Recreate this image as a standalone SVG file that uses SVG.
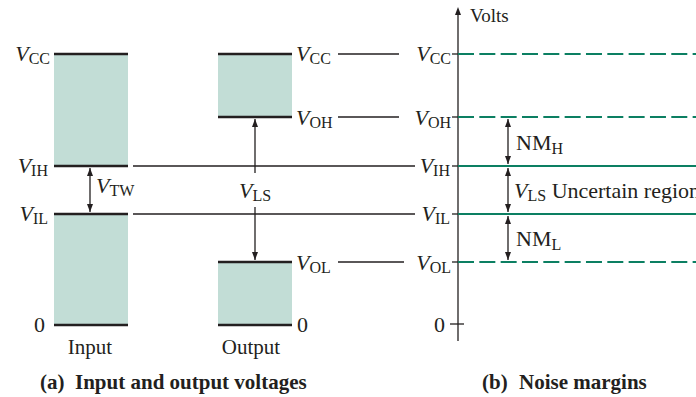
<svg xmlns="http://www.w3.org/2000/svg" width="696" height="397" viewBox="0 0 696 397">
<style>
text{font-family:"Liberation Serif","Times New Roman",serif;font-size:22px;fill:#231f20}
.v{font-style:italic}
.s{font-size:16px;font-style:normal}
.l{font-size:21px}
.b{font-weight:bold;font-size:21px}
.box{fill:#c2ddd6}
.bar{stroke:#231f20;stroke-width:2.6}
.thin{stroke:#231f20;stroke-width:1.3;fill:none}
.gs{stroke:#0c7f62;stroke-width:2.2}
.gd{stroke:#0c7f62;stroke-width:2.2;stroke-dasharray:16 5.33}
.arr{stroke:#231f20;stroke-width:1.3;fill:none;marker-end:url(#ah)}
.arr2{stroke:#231f20;stroke-width:1.3;fill:none;marker-start:url(#ah);marker-end:url(#ah)}
</style>
<defs>
<marker id="ah" markerUnits="userSpaceOnUse" markerWidth="8" markerHeight="6" viewBox="0 0 8 6" refX="8" refY="3" orient="auto-start-reverse">
<path d="M0,0 L8,3 L0,6 z" fill="#231f20"/>
</marker>
</defs>

<g id="input-column">
<rect class="box" x="54" y="54" width="74" height="112"/>
<rect class="box" x="54" y="214" width="74" height="111"/>
<line class="bar" x1="54" y1="54" x2="128" y2="54"/>
<line class="bar" x1="54" y1="166" x2="128" y2="166"/>
<line class="bar" x1="54" y1="214" x2="128" y2="214"/>
<line class="bar" x1="54" y1="325" x2="128" y2="325"/>
<text x="50" y="61" text-anchor="end"><tspan class="v">V</tspan><tspan class="s" dy="3">CC</tspan></text>
<text x="48" y="173" text-anchor="end"><tspan class="v">V</tspan><tspan class="s" dy="3">IH</tspan></text>
<text x="48" y="221" text-anchor="end"><tspan class="v">V</tspan><tspan class="s" dy="3">IL</tspan></text>
<text x="45" y="332" text-anchor="end">0</text>
<text class="l" x="90" y="354" text-anchor="middle">Input</text>
<text x="96" y="193"><tspan class="v">V</tspan><tspan class="s" dy="3">TW</tspan></text>
</g>

<g id="output-column">
<rect class="box" x="218" y="54" width="74" height="63"/>
<rect class="box" x="218" y="262" width="74" height="63"/>
<line class="bar" x1="218" y1="54" x2="292" y2="54"/>
<line class="bar" x1="218" y1="117" x2="292" y2="117"/>
<line class="bar" x1="218" y1="262" x2="292" y2="262"/>
<line class="bar" x1="218" y1="325" x2="292" y2="325"/>
<text x="296" y="61"><tspan class="v">V</tspan><tspan class="s" dy="3">CC</tspan></text>
<text x="296" y="125"><tspan class="v">V</tspan><tspan class="s" dy="3">OH</tspan></text>
<text x="296" y="270"><tspan class="v">V</tspan><tspan class="s" dy="3">OL</tspan></text>
<text x="297" y="332">0</text>
<text class="l" x="251" y="354" text-anchor="middle">Output</text>
<text x="239" y="198"><tspan class="v">V</tspan><tspan class="s" dy="3">LS</tspan></text>
</g>

<g id="noise-margins">
<line class="thin" x1="458" y1="341" x2="458" y2="14"/>
<path d="M458,7 L461,15 L455,15 z" fill="#231f20"/>
<text x="470" y="22" style="font-size:19px">Volts</text>
<line class="gd" x1="458" y1="54" x2="696" y2="54"/>
<line class="gd" x1="458" y1="117" x2="696" y2="117"/>
<line class="gs" x1="458" y1="166" x2="696" y2="166"/>
<line class="gs" x1="458" y1="214" x2="696" y2="214"/>
<line class="gd" x1="458" y1="262" x2="696" y2="262"/>
<line class="thin" x1="452" y1="54" x2="458" y2="54"/>
<line class="thin" x1="452" y1="117" x2="458" y2="117"/>
<line class="thin" x1="452" y1="166" x2="458" y2="166"/>
<line class="thin" x1="452" y1="214" x2="458" y2="214"/>
<line class="thin" x1="452" y1="262" x2="458" y2="262"/>
<line class="thin" x1="450" y1="324" x2="464" y2="324"/>
<text x="451" y="61" text-anchor="end"><tspan class="v">V</tspan><tspan class="s" dy="3">CC</tspan></text>
<text x="451" y="125" text-anchor="end"><tspan class="v">V</tspan><tspan class="s" dy="3">OH</tspan></text>
<text x="450" y="173" text-anchor="end"><tspan class="v">V</tspan><tspan class="s" dy="3">IH</tspan></text>
<text x="450" y="221" text-anchor="end"><tspan class="v">V</tspan><tspan class="s" dy="3">IL</tspan></text>
<text x="451" y="270" text-anchor="end"><tspan class="v">V</tspan><tspan class="s" dy="3">OL</tspan></text>
<text x="445" y="332" text-anchor="end">0</text>
<text x="516" y="150">NM<tspan class="s" dy="4">H</tspan></text>
<text x="514" y="198"><tspan class="v">V</tspan><tspan class="s" dy="3">LS</tspan><tspan dy="-3"> Uncertain region</tspan></text>
<text x="516" y="246">NM<tspan class="s" dy="4">L</tspan></text>
</g>

<g id="connectors">
<line class="thin" x1="338" y1="54" x2="399" y2="54"/>
<line class="thin" x1="338" y1="117" x2="399" y2="117"/>
<line class="thin" x1="338" y1="262" x2="404" y2="262"/>
<line class="thin" x1="133" y1="166" x2="415" y2="166"/>
<line class="thin" x1="133" y1="214" x2="415" y2="214"/>
<line class="arr2" x1="90" y1="168" x2="90" y2="212"/>
<line class="arr" x1="255" y1="173" x2="255" y2="119"/>
<line class="arr" x1="255" y1="207" x2="255" y2="260"/>
<line class="arr2" x1="508" y1="119" x2="508" y2="164"/>
<line class="arr2" x1="508" y1="168" x2="508" y2="212"/>
<line class="arr2" x1="508" y1="216" x2="508" y2="260"/>
</g>

<g id="captions">
<text class="b" x="40" y="389">(a)<tspan x="75">Input and output voltages</tspan></text>
<text class="b" x="482" y="389">(b)<tspan x="519">Noise margins</tspan></text>
</g>
</svg>
